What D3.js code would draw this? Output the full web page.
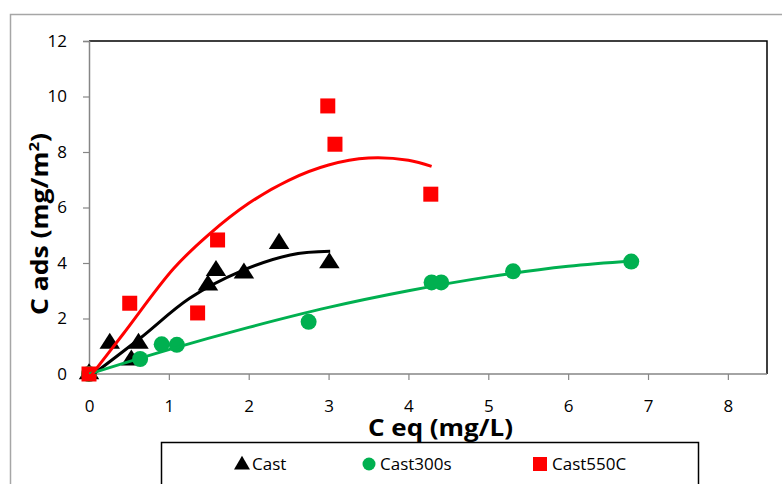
<!DOCTYPE html>
<html>
<head>
<meta charset="utf-8">
<script src="https://cdn.jsdelivr.net/npm/d3@7"></script>
<style>
  html, body { margin: 0; padding: 0; background: #fff; }
  svg { display: block; }
  text { font-family: "Open Sans", "Liberation Sans", sans-serif; }
</style>
</head>
<body>
<div id="chart"></div>
<script>
// Adsorption isotherms: equilibrium concentration vs adsorbed amount
const xTicks = [0, 1, 2, 3, 4, 5, 6, 7, 8];
const yTicks = [0, 2, 4, 6, 8, 10, 12];

const castX = [0, 0.26, 0.53, 0.62, 1.49, 1.59, 1.94, 2.38, 3.01];
const castY = [0, 1.1, 0.5, 1.1, 3.2, 3.72, 3.63, 4.7, 4.0];

const cast300sX = [0, 0.64, 0.91, 1.1, 2.75, 4.29, 4.41, 5.31, 6.79];
const cast300sY = [0, 0.54, 1.07, 1.05, 1.88, 3.3, 3.3, 3.7, 4.05];

const cast550cX = [0, 0.51, 1.36, 1.61, 2.99, 3.08, 4.28];
const cast550cY = [0, 2.55, 2.2, 4.83, 9.66, 8.28, 6.48];

// Polynomial trendlines, sampled along each curve
const castTrendX = [0, 0.64, 1.26, 1.89, 2.52, 3.02];
const castTrendY = [-0.12, 1.29, 2.73, 3.69, 4.29, 4.42];

const cast300sTrendX = [0, 1, 2, 3, 4, 5, 6, 6.8];
const cast300sTrendY = [0, 0.88, 1.68, 2.4, 3.0, 3.5, 3.88, 4.07];

const cast550cTrendX = [0, 0.43, 1.06, 1.51, 2.0, 2.5, 3.0, 3.5, 4.0, 4.29];
const cast550cTrendY = [-0.15, 1.45, 3.8, 5.05, 6.15, 6.98, 7.53, 7.78, 7.7, 7.48];

const seriesNames = ["Cast", "Cast300s", "Cast550C"];
const seriesColors = ["#000000", "#00b050", "#ff0000"];

const W = 782, H = 484;
const svg = d3.select("#chart").append("svg").attr("width", W).attr("height", H);

// Outer chart frame
svg.append("path")
  .attr("d", "M10.5," + H + " V14.5 H" + W)
  .attr("fill", "none").attr("stroke", "#a6a6a6").attr("stroke-width", 1.5);

const x = d3.scaleLinear().domain([0, 8.49]).range([89, 767]);
const y = d3.scaleLinear().domain([0, 12]).range([374, 41]);

// Plot area frame (top and right)
svg.append("path")
  .attr("d", `M${x(0)},${y(12)} H${x(8.49)} V${y(0)}`)
  .attr("fill", "none").attr("stroke", "#000").attr("stroke-width", 1.5);

// Axes
const xAxis = svg.append("g").attr("transform", `translate(0,${y(0)})`)
  .call(d3.axisBottom(x).tickValues(xTicks).tickSize(6).tickPadding(20).tickFormat(d3.format("d")));
const yAxis = svg.append("g").attr("transform", `translate(${x(0)},0)`)
  .call(d3.axisLeft(y).tickValues(yTicks).tickSize(6).tickPadding(16).tickFormat(d3.format("d")));

[xAxis, yAxis].forEach(g => {
  g.select(".domain").attr("stroke", "#868686").attr("stroke-width", 1.5);
  g.selectAll(".tick line").attr("stroke", "#868686").attr("stroke-width", 1.2);
  g.selectAll(".tick text").attr("fill", "#000").style("font-size", "17px")
    .style("font-family", "'Open Sans', sans-serif");
});
// bottom axis line runs to the plot's right edge
xAxis.select(".domain").attr("d", `M${x(0)},0H${x(8.49)}`);

// Markers
const tri = d3.symbol().type(d3.symbolTriangle).size(165);
const plot = svg.append("g");

plot.selectAll(".cast").data(castX.map((v, i) => [v, castY[i]])).join("path")
  .attr("d", tri).attr("fill", seriesColors[0])
  .attr("transform", d => `translate(${x(d[0])},${y(d[1])}) scale(1.05,0.95)`);

plot.selectAll(".c300").data(cast300sX.map((v, i) => [v, cast300sY[i]])).join("circle")
  .attr("cx", d => x(d[0])).attr("cy", d => y(d[1])).attr("r", 8)
  .attr("fill", seriesColors[1]);

plot.selectAll(".c550").data(cast550cX.map((v, i) => [v, cast550cY[i]])).join("rect")
  .attr("x", d => x(d[0]) - 7.5).attr("y", d => y(d[1]) - 7.5)
  .attr("width", 15).attr("height", 15)
  .attr("fill", seriesColors[2]);

// Trendlines, clipped to the plot area
svg.append("clipPath").attr("id", "plotClip").append("rect")
  .attr("x", x(0)).attr("y", y(12)).attr("width", x(8.49) - x(0)).attr("height", y(0) - y(12));

const line = d3.line().x(d => x(d[0])).y(d => y(d[1])).curve(d3.curveCatmullRom.alpha(0.5));
const trends = [
  [castTrendX, castTrendY, seriesColors[0]],
  [cast300sTrendX, cast300sTrendY, seriesColors[1]],
  [cast550cTrendX, cast550cTrendY, seriesColors[2]]
];
const trendG = svg.append("g").attr("clip-path", "url(#plotClip)");
trends.forEach(([tx, ty, c]) => {
  trendG.append("path")
    .datum(tx.map((v, i) => [v, ty[i]]))
    .attr("d", line).attr("fill", "none")
    .attr("stroke", c).attr("stroke-width", 3);
});

// Axis titles
svg.append("text")
  .attr("x", 440.5).attr("y", 436)
  .attr("text-anchor", "middle")
  .attr("textLength", 145).attr("lengthAdjust", "spacingAndGlyphs")
  .style("font-size", "24px").style("font-weight", "bold")
  .text("C eq (mg/L)");

const yt = svg.append("text")
  .attr("transform", "translate(48,224) rotate(-90)")
  .attr("text-anchor", "middle")
  .attr("textLength", 182).attr("lengthAdjust", "spacingAndGlyphs")
  .style("font-size", "24px").style("font-weight", "bold");
yt.append("tspan").text("C ads (mg/m");
yt.append("tspan").attr("dy", -9).style("font-size", "15px").text("2");
yt.append("tspan").attr("dy", 9).text(")");

// Legend
const lg = svg.append("g");
lg.append("rect").attr("x", 161.5).attr("y", 442.5).attr("width", 537).attr("height", 60)
  .attr("fill", "#fff").attr("stroke", "#000").attr("stroke-width", 1.5);

const legendItems = [
  { name: seriesNames[0], mx: 242, tx: 252 },
  { name: seriesNames[1], mx: 369, tx: 380 },
  { name: seriesNames[2], mx: 540, tx: 552 }
];
const ly = 464;
lg.append("path").attr("d", d3.symbol().type(d3.symbolTriangle).size(110))
  .attr("transform", `translate(${legendItems[0].mx},${ly + 1})`).attr("fill", seriesColors[0]);
lg.append("circle").attr("cx", legendItems[1].mx).attr("cy", ly).attr("r", 6.5).attr("fill", seriesColors[1]);
lg.append("rect").attr("x", legendItems[2].mx - 7).attr("y", ly - 7).attr("width", 14).attr("height", 14)
  .attr("fill", seriesColors[2]);
legendItems.forEach(it => {
  lg.append("text").attr("x", it.tx).attr("y", ly + 6)
    .style("font-size", "17px").text(it.name);
});
</script>
</body>
</html>
